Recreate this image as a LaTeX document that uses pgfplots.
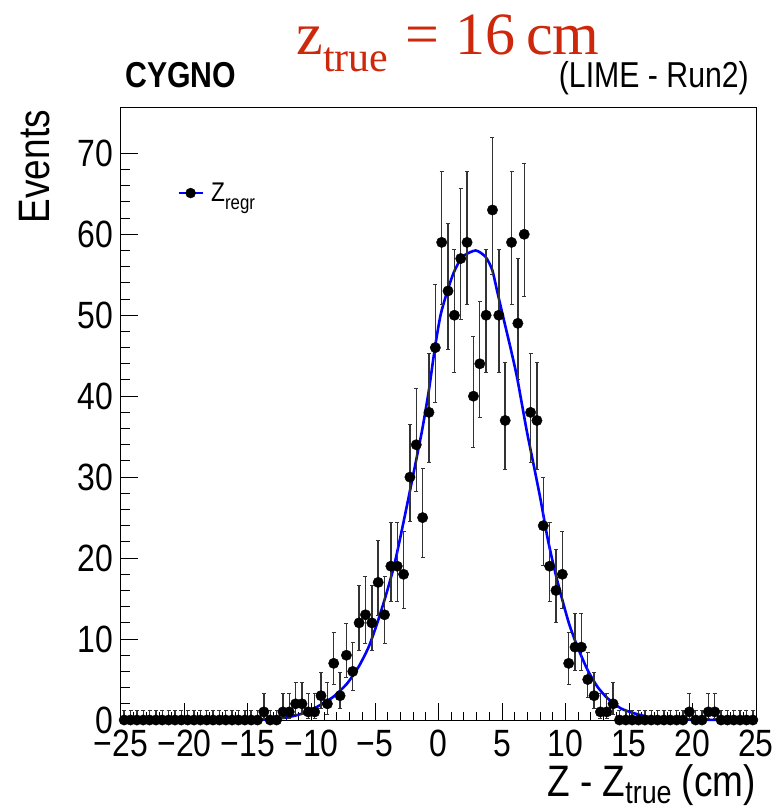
\documentclass[border=0pt]{standalone}
\usepackage{fontspec}
\setmainfont{Liberation Sans}[FakeStretch=0.84]
\newfontfamily\serif{Liberation Serif}
\usepackage{pgfplots}
\usepackage{pgfplotstable}
\pgfplotsset{compat=1.18}

\definecolor{titlered}{RGB}{205,40,12}
\newcommand\ticks{\fontsize{38}{40}\selectfont}
\newcommand\titlefont{\fontsize{44}{46}\selectfont}
\newcommand\legfont{\fontsize{27}{29}\selectfont}

% residual distribution, 0.5 cm bins: centre, counts, Poisson errors (up, down)
\pgfplotstableread{
x y ep em
-24.75 0 1.15 0
-24.25 0 1.15 0
-23.75 0 1.15 0
-23.25 0 1.15 0
-22.75 0 1.15 0
-22.25 0 1.15 0
-21.75 0 1.15 0
-21.25 0 1.15 0
-20.75 0 1.15 0
-20.25 0 1.15 0
-19.75 0 1.15 0
-19.25 0 1.15 0
-18.75 0 1.15 0
-18.25 0 1.15 0
-17.75 0 1.15 0
-17.25 0 1.15 0
-16.75 0 1.15 0
-16.25 0 1.15 0
-15.75 0 1.15 0
-15.25 0 1.15 0
-14.75 0 1.15 0
-14.25 0 1.15 0
-13.75 1 2.30 0.83
-13.25 0 1.15 0
-12.75 0 1.15 0
-12.25 1 2.30 0.83
-11.75 1 2.30 0.83
-11.25 2 2.64 1.29
-10.75 2 2.64 1.29
-10.25 1 2.30 0.83
-9.75 1 2.30 0.83
-9.25 3 2.92 1.63
-8.75 2 2.64 1.29
-8.25 7 3.77 2.58
-7.75 3 2.92 1.63
-7.25 8 3.94 2.77
-6.75 6 3.58 2.38
-6.25 12 4.59 3.44
-5.75 13 4.73 3.58
-5.25 12 4.59 3.44
-4.75 17 5.20 4.09
-4.25 13 4.73 3.58
-3.75 19 5.44 4.33
-3.25 19 5.44 4.33
-2.75 18 5.32 4.21
-2.25 30 6.54 5.45
-1.75 34 6.90 5.81
-1.25 25 6.07 4.97
-0.75 38 7.23 6.14
-0.25 46 7.84 6.76
0.25 59 8.73 7.66
0.75 53 8.33 7.26
1.25 50 8.12 7.05
1.75 57 8.60 7.53
2.25 59 8.73 7.66
2.75 40 7.38 6.30
3.25 44 7.69 6.61
3.75 50 8.12 7.05
4.25 63 8.98 7.92
4.75 50 8.12 7.05
5.25 37 7.15 6.06
5.75 59 8.73 7.66
6.25 49 8.05 6.98
6.75 60 8.79 7.73
7.25 38 7.23 6.14
7.75 37 7.15 6.06
8.25 24 5.97 4.87
8.75 19 5.44 4.33
9.25 16 5.08 3.97
9.75 18 5.32 4.21
10.25 7 3.77 2.58
10.75 9 4.11 2.94
11.25 9 4.11 2.94
11.75 5 3.38 2.16
12.25 3 2.92 1.63
12.75 1 2.30 0.83
13.25 1 2.30 0.83
13.75 2 2.64 1.29
14.25 0 1.15 0
14.75 0 1.15 0
15.25 0 1.15 0
15.75 0 1.15 0
16.25 0 1.15 0
16.75 0 1.15 0
17.25 0 1.15 0
17.75 0 1.15 0
18.25 0 1.15 0
18.75 0 1.15 0
19.25 0 1.15 0
19.75 1 2.30 0.83
20.25 0 1.15 0
20.75 0 1.15 0
21.25 1 2.30 0.83
21.75 1 2.30 0.83
22.25 0 1.15 0
22.75 0 1.15 0
23.25 0 1.15 0
23.75 0 1.15 0
24.25 0 1.15 0
24.75 0 1.15 0
}\bins

% fitted curve, sampled
\pgfplotstableread{
x y
-14.5 0.03
-13.5 0.08
-12.46 0.2
-11.4 0.5
-10.35 1.0
-9.31 1.85
-8.25 2.9
-7.2 4.5
-6.28 6.6
-5.49 9.05
-4.84 11.9
-4.18 15.2
-3.52 18.9
-3.0 22.6
-2.34 27.6
-1.81 31.7
-1.29 35.8
-0.76 40.7
-0.29 45.9
0.16 50.0
0.68 52.9
1.21 55.3
1.87 57.2
2.92 58.0
3.71 57.2
4.23 55.6
4.63 52.9
5.15 49.4
5.68 45.9
6.2 42.2
6.94 35.8
7.52 31.3
8.04 27.2
8.57 22.6
9.09 18.9
9.62 15.6
10.28 11.9
10.94 9.05
11.73 6.2
12.52 4.1
13.3 2.7
14.35 1.44
15.4 0.83
16.46 0.4
17.5 0.2
18.5 0.1
20.0 0.04
22.0 0.01
}\fitcurve

\begin{document}
\begin{tikzpicture}[x=1pt,y=1pt]
\path[use as bounding box] (-121,-91) rectangle (653,720);
\begin{axis}[
  at={(0pt,0pt)}, anchor=south west,
  width=635pt, height=612pt, scale only axis,
  xmin=-25, xmax=25, ymin=0, ymax=75.6,
  clip=false,
  axis line style={line width=1pt, black},
  tick align=inside,
  xtick pos=lower, ytick pos=left,
  major tick length=17pt, minor tick length=8.5pt,
  tick style={line width=1pt, black},
  xtick={-25,-20,...,25},
  xticklabels={−25,−20,−15,−10,−5,0,5,10,15,20,25},
  minor x tick num=4,
  ytick={0,10,...,70},
  minor y tick num=4,
  /pgf/number format/assume math mode=true,
  xticklabel style={font=\ticks, inner sep=0pt, anchor=north, yshift=-10pt},
  yticklabel style={font=\ticks, inner sep=0pt, anchor=east, xshift=-8pt},
  legend style={at={(0.0898,0.861)}, anchor=west, draw=none, fill=none,
    inner sep=0pt, outer sep=0pt, column sep=8pt,
    nodes={inner sep=0pt, font=\legfont}},
]
\addplot[blue, line width=2.6pt, smooth, tension=0.4, forget plot]
  table[x=x, y=y] {\fitcurve};
\addplot[only marks, mark=*, mark size=5.2pt, black,
  mark options={fill=black, draw=black},
  legend image code/.code={
    \draw[blue, line width=1.2pt] (-12pt,0pt) -- (12pt,0pt);
    \fill[black] (0pt,0pt) circle (5pt);},
  error bars/.cd, y dir=both, y explicit,
  error bar style={line width=1.4pt, black!80},
  error mark options={rotate=90, mark size=2pt, line width=1pt, black!80}]
  table[x=x, y=y, y error plus=ep, y error minus=em] {\bins};
\addlegendentry{Z\raisebox{-0.28em}{\fontsize{20}{20}\selectfont regr}}
\end{axis}
% titles and labels
\node[anchor=base, text=titlered, inner sep=0pt] at (327,665)
  {\serif\fontsize{60}{60}\selectfont z\raisebox{-0.28em}{\fontsize{42}{42}\selectfont true}\hspace{0.28em}=\hspace{0.28em}16\hspace{0.17em}cm};
\node[anchor=base west, inner sep=0pt] at (4,632)
  {\fontsize{36}{38}\selectfont\bfseries CYGNO};
\node[anchor=base east, inner sep=0pt] at (628,632)
  {\fontsize{36}{38}\selectfont (LIME - Run2)};
\node[anchor=base east, rotate=90, inner sep=0pt] at (-71,610)
  {\titlefont Events};
\node[anchor=base east, inner sep=0pt] at (635,-76.5)
  {\titlefont Z - Z\raisebox{-0.17em}{\fontsize{32}{32}\selectfont true} (cm)};
\end{tikzpicture}
\end{document}
